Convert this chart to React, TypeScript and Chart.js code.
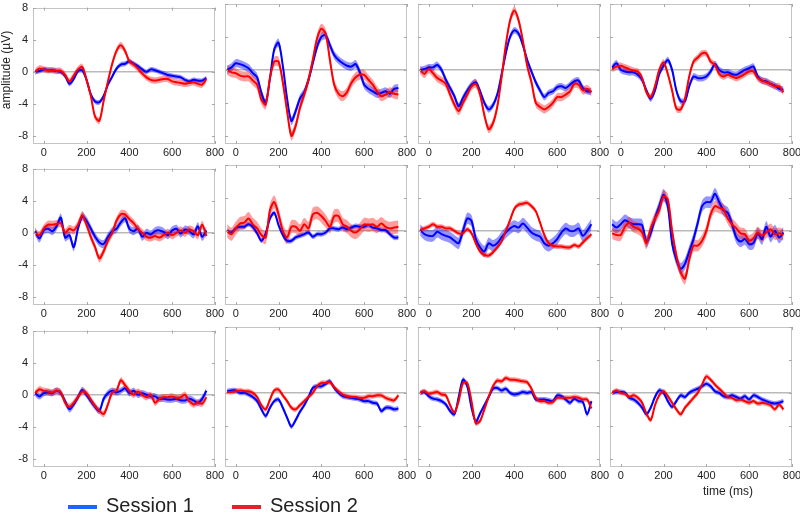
import React, { useEffect, useRef } from "react";
import { Chart, registerables } from "chart.js";
Chart.register(...registerables);

// time axis (ms)
const times = [-40,-20,0,20,40,60,80,100,120,140,160,180,200,220,240,260,280,300,320,340,360,380,400,420,440,460,480,500,520,540,560,580,600,620,640,660,680,700,720,740,760];
const xTicks = [0, 200, 400, 600, 800];
const yTicks = [-8, -4, 0, 4, 8];

// Session 1 (blue) and Session 2 (red) mean amplitudes (µV), panels row by row
const s1P1 = [0.0,0.1,0.3,0.2,0.2,0.1,0.0,-0.5,-1.5,-0.9,0.1,0.2,-1.0,-2.8,-3.7,-3.8,-3.0,-1.6,-0.6,0.4,0.9,1.0,1.3,1.0,0.7,0.3,0.0,0.3,0.2,0.0,-0.2,-0.4,-0.5,-0.6,-0.7,-1.0,-1.2,-1.0,-1.1,-1.1,-0.8];
const s2P1 = [0.0,0.4,0.3,0.2,0.2,0.1,0.1,-0.4,-1.2,-0.5,0.3,0.6,-1.0,-3.0,-5.6,-6.1,-3.6,-1.2,1.0,2.6,3.3,2.6,1.3,0.9,0.4,-0.2,-0.7,-1.0,-1.1,-1.0,-0.9,-0.9,-1.2,-1.3,-1.4,-1.5,-1.4,-1.3,-1.5,-1.6,-0.9];
const s1P2 = [0.0,0.3,0.8,0.7,0.5,0.2,-0.4,-0.9,-2.8,-4.0,-1.0,2.5,3.3,0.5,-3.5,-6.2,-5.0,-3.5,-2.7,-1.2,0.8,2.8,4.0,4.2,3.0,1.8,1.2,0.8,0.5,0.4,0.7,-0.3,-1.8,-2.3,-2.6,-2.9,-2.8,-2.6,-2.9,-2.3,-2.2];
const s2P2 = [0.0,-0.3,-0.4,-0.7,-0.8,-0.8,-1.3,-1.8,-3.6,-4.2,-1.0,1.0,1.0,-1.5,-5.0,-8.0,-6.8,-4.6,-3.0,-1.2,1.2,3.8,5.0,4.4,1.2,-1.8,-2.9,-3.2,-2.7,-1.6,-0.9,-0.6,-0.6,-1.2,-1.8,-2.6,-3.2,-3.0,-2.7,-2.9,-3.0];
const s1P3 = [0.0,0.1,0.3,0.3,0.6,0.0,-1.2,-2.2,-3.2,-4.4,-3.4,-2.5,-1.8,-1.5,-2.6,-4.0,-4.8,-4.3,-3.0,-0.6,2.0,4.0,4.8,4.4,3.0,1.2,-0.2,-1.5,-2.5,-3.3,-2.8,-2.6,-2.1,-2.0,-2.2,-1.8,-1.4,-1.3,-2.2,-2.6,-2.6];
const s2P3 = [0.0,-0.5,0.1,-0.4,-1.0,-1.3,-1.7,-3.0,-4.2,-5.0,-4.0,-3.0,-2.0,-1.7,-3.0,-5.5,-7.2,-6.5,-4.5,-1.0,3.0,6.0,7.2,6.0,3.5,0.5,-1.5,-4.0,-4.5,-4.8,-4.5,-4.0,-3.3,-3.3,-3.0,-2.6,-1.7,-1.8,-2.5,-2.3,-2.7];
const s1P4 = [0.3,0.8,0.0,-0.2,-0.3,-0.3,-0.6,-1.2,-2.5,-3.5,-2.5,-0.5,0.5,1.2,0.0,-2.5,-3.8,-3.8,-2.0,-0.8,-1.0,-1.0,-0.8,-0.2,0.7,0.0,-0.3,-0.3,-0.5,-0.6,-0.3,0.0,0.2,0.4,-0.8,-1.3,-1.4,-1.7,-1.9,-2.3,-2.4];
const s2P4 = [0.1,0.4,0.5,0.3,0.1,-0.1,-0.2,-1.0,-2.7,-3.3,-2.0,0.0,0.9,-0.5,-2.5,-4.7,-4.8,-3.5,-0.8,1.0,1.5,2.0,2.0,1.0,0.6,-0.5,-0.8,-0.6,-0.8,-1.0,-0.8,-0.5,-0.2,-0.2,-1.0,-1.3,-1.5,-1.7,-2.0,-2.0,-2.7];
const s1P5 = [0.2,-0.7,0.3,0.5,0.2,0.8,1.9,-0.6,-0.3,-1.8,0.5,2.0,1.5,0.5,-0.5,-1.2,-1.4,-0.5,0.2,0.5,1.3,1.8,0.5,0.2,0.5,-0.5,0.0,-0.2,0.2,0.3,0.1,-0.3,0.3,0.5,-0.1,0.4,0.2,-0.2,0.8,-0.5,0.3];
const s2P5 = [0.0,-0.3,0.5,1.0,1.0,1.1,1.2,0.0,0.5,0.3,1.0,2.2,1.0,-0.5,-1.8,-3.2,-2.3,-1.0,0.0,1.5,2.3,2.3,1.7,1.2,0.5,0.0,-0.5,-0.6,-0.4,-0.6,-0.3,0.0,-0.3,0.0,0.3,0.0,0.4,0.2,-0.3,1.0,-0.4];
const s1P6 = [0.0,-0.2,0.3,0.5,0.5,0.8,0.5,-0.3,-1.2,-0.3,1.5,2.2,0.7,-0.5,-1.2,-1.2,-0.8,-0.6,-0.4,-0.2,-0.7,-0.4,-0.4,-0.2,0.3,0.3,0.2,0.4,0.2,0.4,0.6,0.5,0.5,0.7,0.4,0.3,0.1,0.1,-0.4,-0.8,-0.8];
const s2P6 = [0.0,-0.4,0.3,0.9,1.0,1.5,0.8,0.3,-0.5,-0.8,2.5,3.5,2.0,0.0,-0.8,0.5,0.5,0.0,0.8,0.3,2.0,2.2,1.8,1.2,0.5,1.8,1.8,0.8,0.5,0.0,-0.2,0.2,0.8,0.7,0.8,0.5,0.9,0.5,0.3,0.4,0.5];
const s1P7 = [0.1,-0.4,-0.6,-0.6,-0.1,-0.4,-0.6,-0.8,-1.2,-1.5,0.0,1.5,1.2,-1.0,-2.0,-2.5,-1.5,-1.8,-1.5,-0.8,-0.2,0.3,0.6,0.4,0.9,0.4,-0.2,-0.5,-0.7,-1.5,-1.8,-1.5,-1.0,-0.2,0.3,0.0,0.0,0.3,-0.6,0.0,0.8];
const s2P7 = [0.1,0.3,0.5,0.8,0.5,0.5,0.3,0.3,0.0,-0.3,-0.3,0.2,-0.3,-1.5,-2.5,-2.9,-3.0,-2.6,-2.0,-1.3,0.0,1.3,2.7,3.2,3.3,3.4,3.0,2.4,1.0,-0.5,-1.5,-1.8,-1.9,-1.9,-2.0,-2.0,-1.7,-1.9,-1.4,-0.9,-0.4];
const s1P8 = [0.8,0.4,0.8,1.3,1.0,0.8,0.8,0.7,-1.3,-0.3,1.5,3.0,4.4,3.0,-1.5,-3.5,-4.6,-4.0,-2.5,-1.0,1.0,3.0,3.5,3.5,4.5,3.5,2.5,2.2,0.8,-0.8,-1.3,-1.0,-1.6,-1.5,-0.3,-1.0,0.5,-0.7,0.0,-0.8,-0.2];
const s2P8 = [-0.3,-0.5,-0.5,0.5,1.0,0.5,0.3,-0.2,-1.5,0.3,1.5,2.5,4.2,3.8,0.0,-3.0,-5.0,-5.8,-3.5,-1.8,-1.8,-1.2,0.0,2.0,3.0,2.8,2.6,1.5,0.8,0.3,-0.3,-0.4,-1.2,-0.9,-0.2,-0.6,-0.2,0.2,-0.4,-0.3,-0.5];
const s1P9 = [0.2,-0.2,0.2,0.3,0.2,0.5,0.2,-0.8,-1.8,-1.2,-0.3,0.6,0.0,-0.8,-1.5,-2.0,-0.5,0.2,0.5,0.3,0.5,0.8,0.2,0.5,0.0,0.2,0.0,-0.2,-0.2,-0.5,-0.5,-0.6,-0.6,-0.5,-0.7,-0.7,-0.5,-0.7,-1.0,-0.5,0.5];
const s2P9 = [0.2,0.7,0.5,0.4,0.3,0.5,0.3,-1.0,-1.5,-1.0,-0.3,0.4,0.2,-0.6,-1.4,-2.0,-2.4,-1.2,0.3,0.5,1.8,1.2,0.5,0.0,0.4,0.0,-0.3,0.0,-1.0,-0.5,-0.3,-0.3,-0.2,-0.4,-0.3,0.0,-0.8,-1.2,-1.0,-1.1,-0.3];
const s1P10 = [0.2,0.3,0.3,0.0,0.0,-0.2,-0.5,-1.0,-2.0,-2.8,-1.8,-1.0,-0.8,-1.8,-3.0,-4.1,-3.3,-2.3,-1.5,-0.5,0.6,0.8,0.8,1.1,1.4,0.6,0.0,-0.4,-0.5,-0.6,-0.7,-0.8,-1.0,-1.0,-1.2,-1.3,-2.2,-1.8,-1.8,-2.0,-1.9];
const s2P10 = [0.1,0.1,0.2,0.3,0.2,0.2,0.0,-0.5,-1.5,-2.0,-0.8,0.3,0.4,-0.3,-1.0,-1.8,-2.0,-1.5,-1.0,-0.5,0.0,0.8,1.2,1.2,1.3,0.7,0.2,-0.2,-0.4,-0.5,-0.5,-0.6,-0.6,-0.4,-0.4,-0.3,-0.3,-0.6,-0.8,-0.9,-0.3];
const s1P11 = [0.0,0.1,-0.4,-0.7,-0.8,-1.0,-1.4,-2.2,-2.6,-0.5,1.6,0.8,-1.8,-3.5,-2.5,-1.5,-0.5,0.5,0.6,0.3,0.5,0.0,-0.2,-0.1,0.1,0.0,0.1,-0.8,-0.8,-0.8,-0.9,-1.0,-0.3,-0.4,-0.8,-1.2,-0.7,-1.0,-1.1,-2.6,-1.0];
const s2P11 = [0.0,0.2,-0.1,0.0,0.1,-0.2,-0.3,-1.5,-2.4,-1.0,1.2,1.2,-1.0,-3.7,-3.4,-2.0,-0.5,0.8,1.5,1.4,1.8,1.6,1.6,1.5,1.4,1.3,0.5,-0.6,-1.0,-1.0,-1.2,-1.1,-0.6,-0.6,-0.6,-0.6,-0.5,-0.6,-0.8,-0.8,-1.9];
const s1P12 = [0.0,0.1,0.1,0.0,-0.6,-0.8,-1.2,-1.8,-2.6,-1.8,-0.5,0.3,0.0,-1.0,-1.7,-1.0,-0.3,-0.5,0.0,0.3,0.5,0.8,1.1,0.8,0.2,0.0,-0.4,-0.5,-0.3,-0.5,-0.7,-0.4,-0.8,-0.3,-0.5,-0.8,-1.0,-1.2,-1.3,-1.2,-1.0];
const s2P12 = [0.0,0.3,0.0,-0.1,-0.5,-0.3,-0.6,-1.2,-2.5,-3.3,-1.5,-0.3,0.2,-0.4,-1.2,-2.0,-2.6,-1.8,-1.2,-0.6,0.0,1.0,2.0,1.6,1.0,0.5,0.0,-0.5,-0.6,-0.9,-0.8,-1.0,-1.2,-1.0,-1.3,-1.2,-1.3,-1.5,-2.0,-1.4,-2.0];

// standard error half-widths (µV) per panel
const s1Sem = [0.3, 0.5, 0.4, 0.4, 0.5, 0.3, 0.7, 0.7, 0.4, 0.3, 0.3, 0.3];
const s2Sem = [0.4, 0.6, 0.5, 0.4, 0.5, 0.8, 0.3, 0.7, 0.4, 0.3, 0.3, 0.3];

const session1 = [s1P1, s1P2, s1P3, s1P4, s1P5, s1P6, s1P7, s1P8, s1P9, s1P10, s1P11, s1P12];
const session2 = [s2P1, s2P2, s2P3, s2P4, s2P5, s2P6, s2P7, s2P8, s2P9, s2P10, s2P11, s2P12];

const legendLabels = ["Session 1", "Session 2"];

const FONT = "'Liberation Sans', Arial, Helvetica, sans-serif";
const COL_LEFT = [33, 225, 418, 610];
const ROW_TOP = [4, 165, 327];
const PW = 182;
const PH = 140;
const PADL = 32;
const PADT = 8;
const PADR = 14;
const PADB = 18;

const framePlugin = {
  id: "frame",
  afterDatasetsDraw(chart: any) {
    const { ctx, chartArea: a, scales } = chart;
    ctx.save();
    ctx.strokeStyle = "#c4c4c4";
    ctx.lineWidth = 1;
    ctx.strokeRect(Math.round(a.left) + 0.5, Math.round(a.top) + 0.5, Math.round(a.right - a.left) - 1, Math.round(a.bottom - a.top) - 1);
    ctx.strokeStyle = "#a8a8a8";
    ctx.beginPath();
    for (const v of yTicks) {
      const y = Math.round(scales.y.getPixelForValue(v)) + 0.5;
      ctx.moveTo(a.left, y); ctx.lineTo(a.left + 3, y);
      ctx.moveTo(a.right - 3, y); ctx.lineTo(a.right, y);
    }
    for (const v of xTicks) {
      const x = Math.round(scales.x.getPixelForValue(v)) + 0.5;
      ctx.moveTo(x, a.bottom); ctx.lineTo(x, a.bottom - 3);
      ctx.moveTo(x, a.top); ctx.lineTo(x, a.top + 3);
    }
    ctx.stroke();
    ctx.restore();
  },
};

function pts(vals: number[], off: number) {
  return times.map((t, i) => ({ x: t, y: vals[i] + off }));
}

function Panel({ index }: { index: number }) {
  const ref = useRef<HTMLCanvasElement | null>(null);
  const row = Math.floor(index / 4);
  const col = index % 4;
  const W = PADL + PW + PADR;
  const H = PADT + PH + PADB;
  useEffect(() => {
    if (!ref.current) return;
    const b = session1[index];
    const r = session2[index];
    const bs = s1Sem[index];
    const rs = s2Sem[index];
    const band = (data: any, color: string, fill: any, order: number) => ({
      data, borderWidth: 0, pointRadius: 0, backgroundColor: color, fill, order, tension: 0.3,
    });
    const chart = new Chart(ref.current, {
      type: "line",
      data: {
        datasets: [
          band(pts(b, bs), "rgba(20,20,255,0.45)", "+1", 3),
          band(pts(b, -bs), "rgba(20,20,255,0.45)", false, 3),
          band(pts(r, rs), "rgba(255,20,20,0.42)", "+1", 2),
          band(pts(r, -rs), "rgba(255,20,20,0.42)", false, 2),
          { label: legendLabels[0], data: pts(b, 0), borderColor: "#0000ff", borderWidth: 2, pointRadius: 0, fill: false, order: 1, tension: 0.3 },
          { label: legendLabels[1], data: pts(r, 0), borderColor: "#ff0000", borderWidth: 2, pointRadius: 0, fill: false, order: 0, tension: 0.3 },
        ] as any,
      },
      options: {
        responsive: false,
        animation: false,
        devicePixelRatio: 1,
        layout: { padding: { top: PADT, right: PADR, left: 0, bottom: 0 } },
        plugins: { legend: { display: false }, tooltip: { enabled: false } },
        scales: {
          x: {
            type: "linear",
            min: -50,
            max: 800,
            afterBuildTicks: (s: any) => { s.ticks = xTicks.map((v) => ({ value: v })); },
            afterFit: (s: any) => { s.height = PADB; },
            grid: { display: false, drawTicks: false },
            border: { display: false },
            ticks: { color: "#222", font: { family: FONT, size: 11 }, padding: 2, maxRotation: 0, autoSkip: false },
          },
          y: {
            type: "linear",
            min: -9,
            max: 8,
            afterBuildTicks: (s: any) => { s.ticks = yTicks.map((v) => ({ value: v })); },
            afterFit: (s: any) => { s.width = PADL; },
            grid: {
              drawTicks: false,
              lineWidth: 1.5,
              color: (c: any) => (c.tick && c.tick.value === 0 ? "#b9b9b9" : "rgba(0,0,0,0)"),
            },
            border: { display: false },
            ticks: { display: col === 0, color: "#222", font: { family: FONT, size: 11 }, padding: 5 },
          },
        },
      } as any,
      plugins: [framePlugin],
    });
    return () => chart.destroy();
  }, [index]);
  return (
    <canvas
      ref={ref}
      width={W}
      height={H}
      style={{ position: "absolute", left: COL_LEFT[col] - PADL, top: ROW_TOP[row] - PADT, width: W, height: H }}
    />
  );
}

export default function App() {
  return (
    <div style={{ position: "absolute", left: 0, top: 0, width: 800, height: 514, background: "#fff", overflow: "hidden", fontFamily: FONT }}>
      {Array.from({ length: 12 }, (_, i) => <Panel key={i} index={i} />)}
      <div style={{ position: "absolute", left: -54, top: 64, width: 120, textAlign: "center", fontSize: 12, lineHeight: "12px", color: "#222", transform: "rotate(-90deg)" }}>
        amplitude (µV)
      </div>
      <div style={{ position: "absolute", left: 703, top: 485, fontSize: 12, lineHeight: "12px", color: "#222", whiteSpace: "nowrap" }}>
        time (ms)
      </div>
      <div style={{ position: "absolute", left: 68, top: 505, width: 29, height: 4, background: "#1e64ff" }} />
      <div style={{ position: "absolute", left: 106, top: 495, fontSize: 20, lineHeight: "20px", color: "#222", whiteSpace: "nowrap" }}>
        {legendLabels[0]}
      </div>
      <div style={{ position: "absolute", left: 232, top: 505, width: 29, height: 4, background: "#e8202a" }} />
      <div style={{ position: "absolute", left: 270, top: 495, fontSize: 20, lineHeight: "20px", color: "#222", whiteSpace: "nowrap" }}>
        {legendLabels[1]}
      </div>
    </div>
  );
}
